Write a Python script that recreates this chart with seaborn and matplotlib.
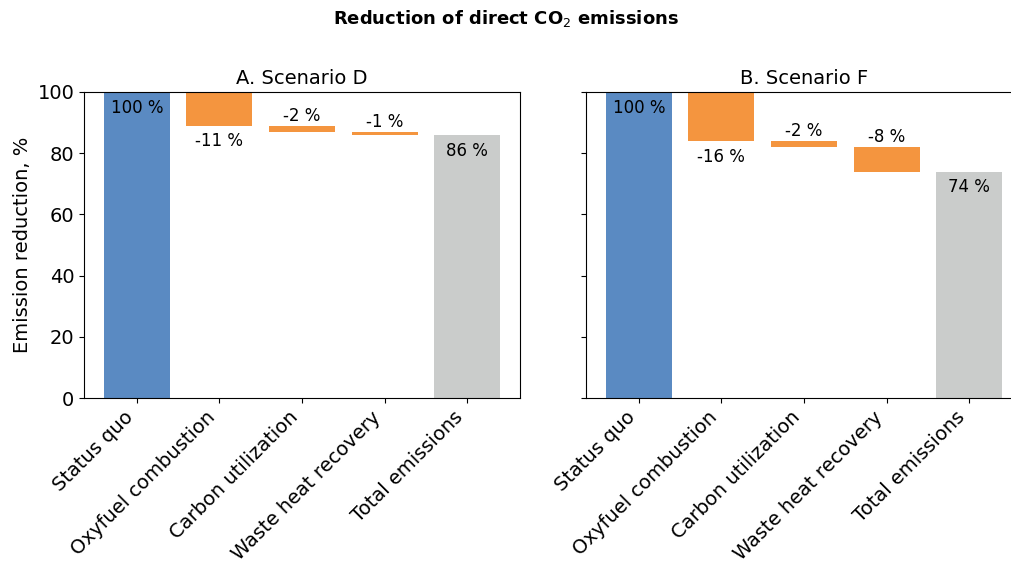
import pandas as pd
import seaborn as sns
from matplotlib import pyplot as plt

categories = ['Status quo', 'Oxyfuel combustion', 'Carbon utilization', 'Waste heat recovery', 'Total emissions']
steps_d = [100, -11, -2, -1]
steps_f = [100, -16, -2, -8]
panel_titles = ['A. Scenario D', 'B. Scenario F']
bar_colors = ['#5a8ac2', '#f4953f', '#f4953f', '#f4953f', '#cacccb']


def waterfall(steps):
    # heights and bottoms of the floating bars, total at the end
    heights, bottoms = [], []
    level = 0
    for i, s in enumerate(steps):
        if i == 0:
            heights.append(s)
            bottoms.append(0)
            level = s
        else:
            level += s
            heights.append(-s)
            bottoms.append(level)
    heights.append(level)
    bottoms.append(0)
    return pd.DataFrame({'cat': categories, 'height': heights, 'bottom': bottoms,
                         'label': steps + [level]})


sns.set_style('ticks', {'text.color': 'black', 'axes.labelcolor': 'black',
                        'xtick.color': 'black', 'ytick.color': 'black', 'axes.edgecolor': 'black'})
plt.rcParams['font.family'] = ['DejaVu Sans']
fig = plt.figure(figsize=(10.12, 5.62), dpi=100)
ax1 = fig.add_axes([84 / 1012, 164 / 562, 436 / 1012, 306 / 562])
ax2 = fig.add_axes([586 / 1012, 164 / 562, 436 / 1012, 306 / 562], sharey=ax1)

for ax, steps, title in zip([ax1, ax2], [steps_d, steps_f], panel_titles):
    df = waterfall(steps)
    sns.barplot(data=df, x='cat', y='height', color=bar_colors[0], bottom=df['bottom'].values,
                width=0.8, saturation=1, linewidth=0, edgecolor='none', ax=ax)
    for p, c in zip(ax.patches, bar_colors):
        p.set_facecolor(c)
    for i, row in df.iterrows():
        top = row['bottom'] + row['height']
        if i == 0 or i == len(df) - 1:
            ax.text(i, top - 2.2, f"{row['label']} %", ha='center', va='top', fontsize=12)
        elif abs(row['label']) > 10:
            ax.text(i, row['bottom'] - 2.2, f"{row['label']} %", ha='center', va='top', fontsize=12)
        else:
            ax.text(i, top + 0.2, f"{row['label']} %", ha='center', va='bottom', fontsize=12)
    ax.set_title(title, fontsize=14)
    ax.set_xlabel('')
    ax.set_ylim(0, 100)
    ax.set_xlim(-0.64, 4.64)
    ax.tick_params(labelsize=14)
    plt.setp(ax.get_xticklabels(), rotation=45, ha='right')

ax1.set_ylabel('Emission reduction, %', fontsize=14)
ax2.set_ylabel('')
ax2.tick_params(labelleft=False)
fig.suptitle('Reduction of direct CO$_2$ emissions', fontsize=13, fontweight='bold', y=0.985)

plt.savefig('out.png', dpi=100)
